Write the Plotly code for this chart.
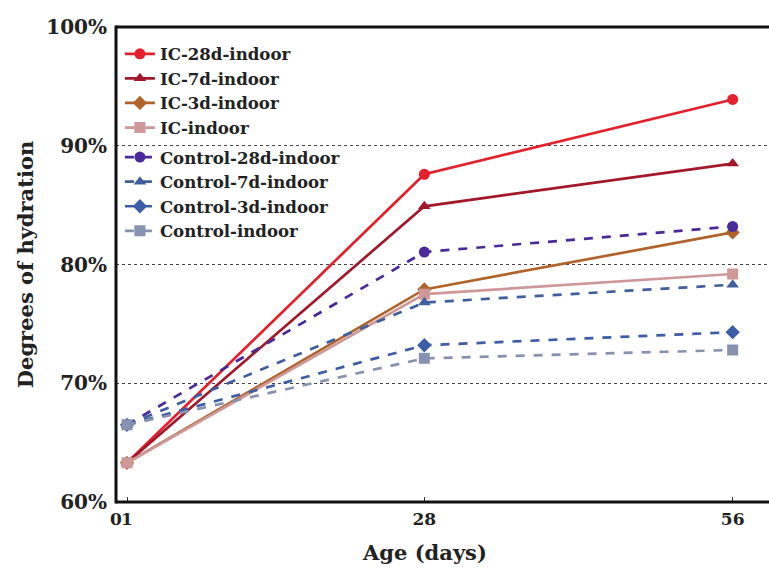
import plotly.graph_objects as go

days = [1, 28, 56]
ic_28d = [63.3, 87.6, 93.9]
ic_7d = [63.3, 84.9, 88.5]
ic_3d = [63.3, 77.9, 82.7]
ic_indoor = [63.3, 77.5, 79.2]
ctrl_28d = [66.5, 81.05, 83.2]
ctrl_7d = [66.5, 76.8, 78.3]
ctrl_3d = [66.5, 73.2, 74.3]
ctrl_indoor = [66.5, 72.1, 72.8]

names = ["IC-28d-indoor", "IC-7d-indoor", "IC-3d-indoor", "IC-indoor",
         "Control-28d-indoor", "Control-7d-indoor", "Control-3d-indoor", "Control-indoor"]
series = [ic_28d, ic_7d, ic_3d, ic_indoor, ctrl_28d, ctrl_7d, ctrl_3d, ctrl_indoor]
colors = ["#e3202b", "#a2182a", "#b0642c", "#cf9898",
          "#4a2a9a", "#3f5e9e", "#3d5ca8", "#8791b0"]
symbols = ["circle", "triangle-up", "diamond", "square",
           "circle", "triangle-up", "diamond", "square"]
groups = ["IC"] * 4 + ["Control"] * 4

FONT = "DejaVu Serif, Liberation Serif, serif"

fig = go.Figure()
for n, s, c, m, g in zip(names, series, colors, symbols, groups):
    fig.add_trace(go.Scatter(
        x=days, y=s, name=n, mode="lines+markers", legendgroup=g,
        line=dict(color=c, width=2.7, dash="solid" if g == "IC" else "dash"),
        marker=dict(symbol=m, size=11, color=c),
    ))

frame = dict(color="#111", width=3)
fig.update_layout(
    width=769, height=572,
    margin=dict(l=116, r=0, t=27, b=70),
    paper_bgcolor="white", plot_bgcolor="white",
    font=dict(family=FONT, size=18, color="#222", weight="bold"),
    showlegend=True,
    legend=dict(x=0.006, y=0.98, xanchor="left", yanchor="top",
                bgcolor="rgba(0,0,0,0)", font=dict(family=FONT, size=16.6, color="#222", weight="bold"),
                tracegroupgap=5, itemwidth=30, traceorder="grouped"),
    shapes=[
        dict(type="line", xref="paper", yref="paper", x0=0, x1=1.01, y0=1, y1=1, line=frame),
        dict(type="line", xref="paper", yref="paper", x0=0, x1=1.01, y0=0, y1=0, line=frame),
        dict(type="line", xref="paper", yref="paper", x0=0, x1=0, y0=-0.003, y1=1.003, line=frame),
    ],
    annotations=[
        dict(text="Age (days)", xref="paper", yref="paper", x=0.473, y=-0.107,
             xanchor="center", yanchor="middle", showarrow=False,
             font=dict(family=FONT, size=21, color="#222", weight="bold")),
    ],
)
fig.update_xaxes(
    range=[0, 59.3], tickvals=[0, 1, 28, 56], ticktext=["0", "1", "28", "56"],
    tickangle=0, showline=False,
    ticks="inside", ticklen=5, tickcolor="#333", showgrid=False, zeroline=False,
    ticklabelstandoff=5,
    tickfont=dict(family=FONT, size=17, weight="bold"),
)
fig.update_yaxes(
    range=[60, 100], tickvals=[60, 70, 80, 90, 100],
    ticktext=["60%", "70%", "80%", "90%", "100%"],
    showline=False,
    ticks="", showgrid=True, gridcolor="#444", griddash="dot", gridwidth=1,
    zeroline=False, ticklabelstandoff=8,
    title=dict(text="Degrees of hydration", font=dict(family=FONT, size=21, weight="bold"), standoff=6),
    tickfont=dict(family=FONT, size=20, weight="bold"),
)

fig.write_html("out.html")
